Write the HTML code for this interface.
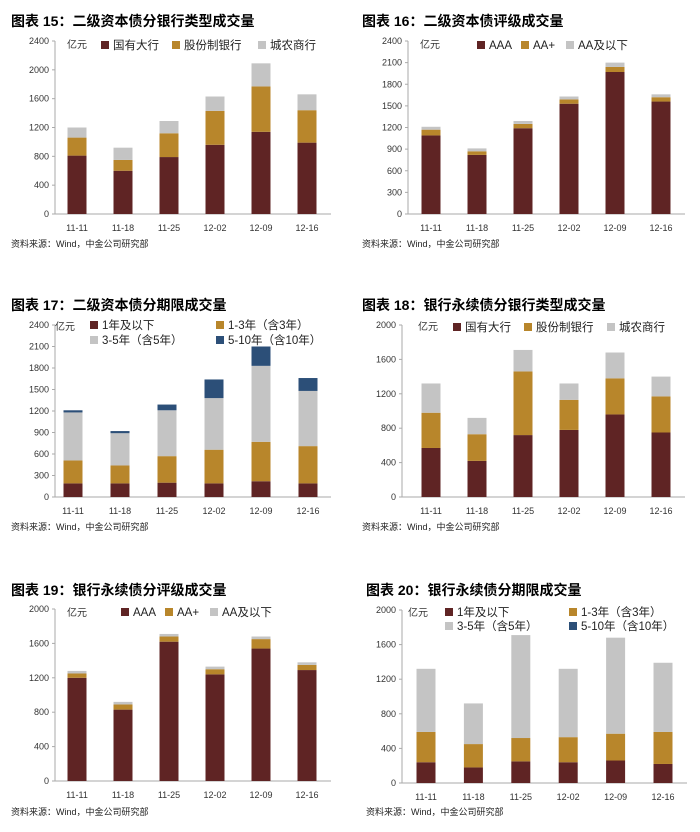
<!DOCTYPE html>
<html><head><meta charset="utf-8"><style>
body{margin:0;background:#fff;width:700px;height:832px;overflow:hidden}
svg{display:block;font-family:"Liberation Sans","Noto Sans CJK SC",sans-serif}
</style></head><body>
<svg id="s" width="700" height="832"></svg>
<script>
const categories=["11-11","11-18","11-25","12-02","12-09","12-16"];
// Chart 15
const c15soe=[810,600,790,960,1140,990];
const c15js=[250,150,330,470,630,450];
const c15city=[140,170,170,200,320,220];
// Chart 16
const c16aaa=[1090,820,1190,1530,1970,1560];
const c16aap=[80,50,60,60,70,60];
const c16aab=[40,40,40,40,60,40];
// Chart 17
const c17y1=[190,190,200,190,220,190];
const c17y13=[320,250,370,470,550,520];
const c17y35=[670,450,640,720,1060,770];
const c17y510=[30,30,80,260,270,180];
// Chart 18
const c18soe=[570,420,720,780,960,750];
const c18js=[410,310,740,350,420,420];
const c18city=[340,190,250,190,300,230];
// Chart 19
const c19aaa=[1200,830,1620,1240,1540,1290];
const c19aap=[50,60,60,60,110,60];
const c19aab=[30,30,30,30,30,30];
// Chart 20
const c20y1=[240,180,250,240,260,220];
const c20y13=[350,270,270,290,310,370];
const c20y35=[730,470,1190,790,1110,800];
const c20y510=[0,0,0,0,0,0];
const ticks2400a=[0,400,800,1200,1600,2000,2400];
const ticks2400b=[0,300,600,900,1200,1500,1800,2100,2400];
const ticks2000=[0,400,800,1200,1600,2000];

const C={m:"#5f2424",g:"#b8862b",s:"#c4c4c4",b:"#2c4f78"};
const NS="http://www.w3.org/2000/svg";
const svg=document.getElementById('s');
function mk(tag,at,parent,txt){const e=document.createElementNS(NS,tag);for(const k in at)e.setAttribute(k,at[k]);if(txt!=null)e.textContent=txt;(parent||svg).appendChild(e);return e;}

function chart(o){
  const g=mk('g',{});
  
  
  const t=mk('text',{x:o.tx,y:o.ty,'font-size':14,'font-weight':'bold',fill:'#000'},g,o.title);
  
  
  const max=o.ticks[o.ticks.length-1];
  const y=v=>o.y0-(v/max)*(o.y0-o.y1);
  const x=i=>o.bx0+i*o.bdx;
  mk('line',{x1:o.ax,y1:o.y1,x2:o.ax,y2:o.y0,stroke:'#aaa','stroke-width':1},g);
  mk('line',{x1:o.ax,y1:o.y0,x2:o.ar,y2:o.y0,stroke:'#aaa','stroke-width':1},g);
  o.ticks.forEach(v=>{
    const tl=mk('text',{x:o.ax-6,y:y(v)+3,'font-size':9,'text-anchor':'end',fill:'#333'},g,String(v));
    
    
    mk('line',{x1:o.ax-3,y1:y(v),x2:o.ax,y2:y(v),stroke:'#aaa'},g);
  });
  categories.forEach((c,i)=>{
    const xl=mk('text',{x:x(i),y:o.y0+17,'font-size':9,'text-anchor':'middle',fill:'#333'},g,c);
    
    
    let acc=0;
    o.series.forEach(s=>{
      const v=s.data[i];
      if(v>0){
        const r=mk('rect',{x:x(i)-9.5,y:y(acc+v),width:19,height:y(acc)-y(acc+v),fill:s.color},g);
        
        
      }
      acc+=v;
    });
  });
  const u=mk('text',{x:o.ux,y:o.uy,'font-size':10,fill:'#333'},g,'亿元');
  
  
  o.series.forEach(s=>{
    const lg=mk('g',{},g);
    
    
    mk('rect',{x:s.lx,y:s.ly-8,width:8,height:8,fill:s.color},lg);
    mk('text',{x:s.lx+12,y:s.ly,'font-size':11.5,fill:'#222'},lg,s.label);
  });
  const src=mk('text',{x:o.tx,y:o.sy,'font-size':9,fill:'#222'},g,'资料来源：Wind，中金公司研究部');
  
  
}

chart({name:'chart-15',title:'图表 15：二级资本债分银行类型成交量',tx:11,ty:26,sy:247,ax:55,ar:331,y0:214,y1:41,bx0:77,bdx:46,ticks:ticks2400a,ux:67,uy:48,
 series:[{key:'soe',data:c15soe,color:C.m,label:'国有大行',lx:101,ly:49},{key:'js',data:c15js,color:C.g,label:'股份制银行',lx:172,ly:49},{key:'city',data:c15city,color:C.s,label:'城农商行',lx:258,ly:49}]});
chart({name:'chart-16',title:'图表 16：二级资本债评级成交量',tx:362,ty:26,sy:247,ax:408,ar:685,y0:214,y1:41,bx0:431,bdx:46,ticks:ticks2400b,ux:420,uy:48,
 series:[{key:'aaa',data:c16aaa,color:C.m,label:'AAA',lx:477,ly:49},{key:'aap',data:c16aap,color:C.g,label:'AA+',lx:521,ly:49},{key:'aab',data:c16aab,color:C.s,label:'AA及以下',lx:566,ly:49}]});
chart({name:'chart-17',title:'图表 17：二级资本债分期限成交量',tx:11,ty:310,sy:530,ax:55,ar:331,y0:497,y1:325,bx0:73,bdx:47,ticks:ticks2400b,ux:55,uy:330,
 series:[{key:'y1',data:c17y1,color:C.m,label:'1年及以下',lx:90,ly:329},{key:'y13',data:c17y13,color:C.g,label:'1-3年（含3年）',lx:216,ly:329},{key:'y35',data:c17y35,color:C.s,label:'3-5年（含5年）',lx:90,ly:344},{key:'y510',data:c17y510,color:C.b,label:'5-10年（含10年）',lx:216,ly:344}]});
chart({name:'chart-18',title:'图表 18：银行永续债分银行类型成交量',tx:362,ty:310,sy:530,ax:402,ar:685,y0:497,y1:325,bx0:431,bdx:46,ticks:ticks2000,ux:418,uy:330,
 series:[{key:'soe',data:c18soe,color:C.m,label:'国有大行',lx:453,ly:331},{key:'js',data:c18js,color:C.g,label:'股份制银行',lx:524,ly:331},{key:'city',data:c18city,color:C.s,label:'城农商行',lx:607,ly:331}]});
chart({name:'chart-19',title:'图表 19：银行永续债分评级成交量',tx:11,ty:595,sy:815,ax:55,ar:331,y0:781,y1:609,bx0:77,bdx:46,ticks:ticks2000,ux:67,uy:616,
 series:[{key:'aaa',data:c19aaa,color:C.m,label:'AAA',lx:121,ly:616},{key:'aap',data:c19aap,color:C.g,label:'AA+',lx:165,ly:616},{key:'aab',data:c19aab,color:C.s,label:'AA及以下',lx:210,ly:616}]});
chart({name:'chart-20',title:'图表 20：银行永续债分期限成交量',tx:366,ty:595,sy:815,ax:402,ar:687,y0:783,y1:610,bx0:426,bdx:47.4,ticks:ticks2000,ux:408,uy:616,
 series:[{key:'y1',data:c20y1,color:C.m,label:'1年及以下',lx:445,ly:616},{key:'y13',data:c20y13,color:C.g,label:'1-3年（含3年）',lx:569,ly:616},{key:'y35',data:c20y35,color:C.s,label:'3-5年（含5年）',lx:445,ly:630},{key:'y510',data:c20y510,color:C.b,label:'5-10年（含10年）',lx:569,ly:630}]});
</script>
</body></html>
